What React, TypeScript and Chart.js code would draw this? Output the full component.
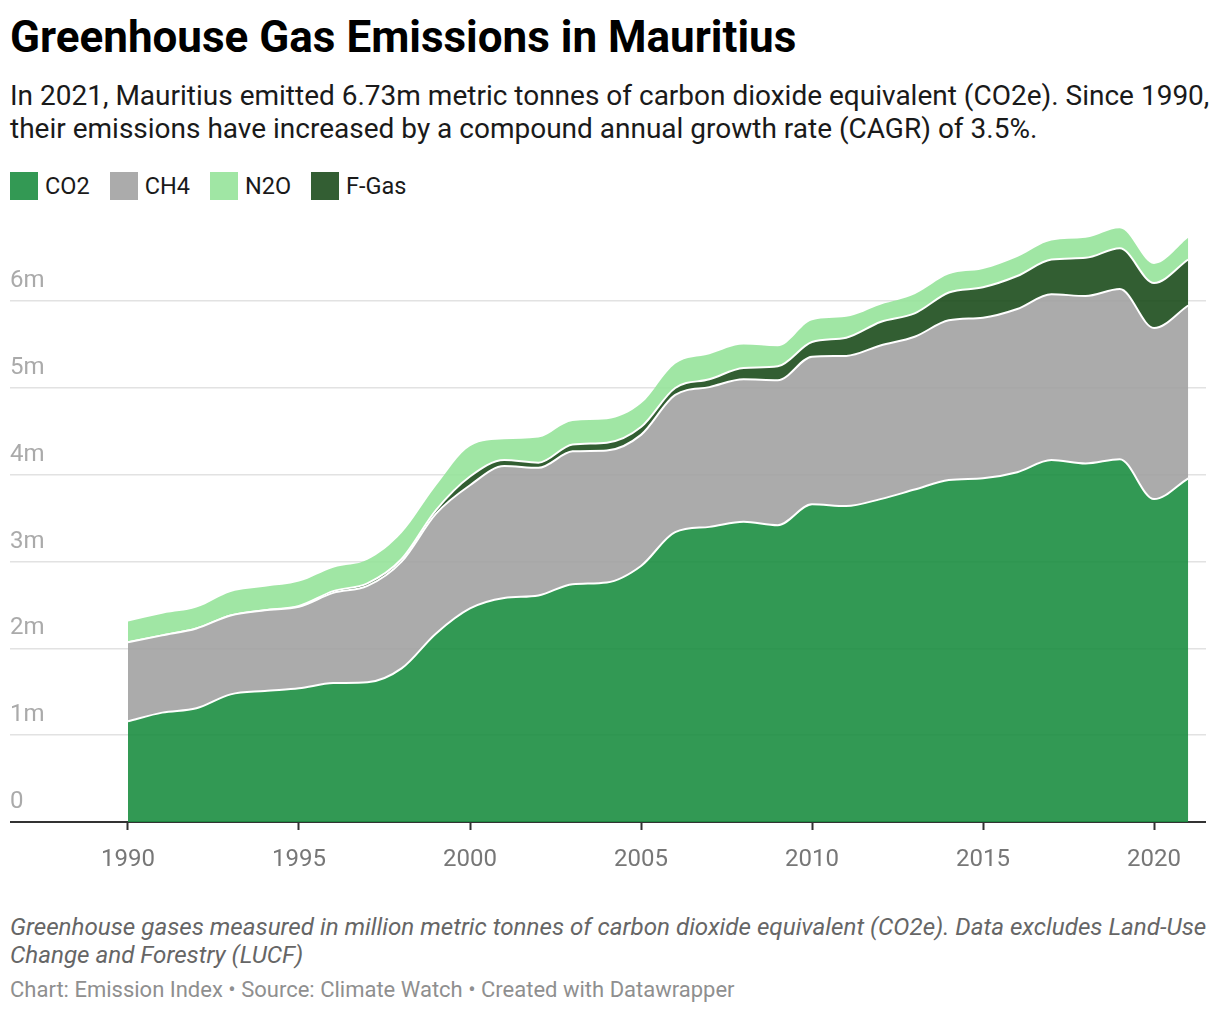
import React, { useEffect, useRef } from "react";
import { Chart, registerables } from "chart.js";

Chart.register(...registerables);

const years = [
  1990, 1991, 1992, 1993, 1994, 1995, 1996, 1997, 1998, 1999, 2000, 2001, 2002, 2003, 2004, 2005,
  2006, 2007, 2008, 2009, 2010, 2011, 2012, 2013, 2014, 2015, 2016, 2017, 2018, 2019, 2020, 2021,
];
const co2 = [
  1.16, 1.26, 1.31, 1.47, 1.51, 1.54, 1.6, 1.61, 1.77, 2.17, 2.46, 2.58, 2.61, 2.74, 2.76, 2.95,
  3.34, 3.4, 3.46, 3.42, 3.66, 3.64, 3.72, 3.83, 3.94, 3.96, 4.03, 4.17, 4.13, 4.18, 3.72, 3.96,
];
const ch4 = [
  0.91, 0.89, 0.92, 0.91, 0.93, 0.94, 1.04, 1.11, 1.23, 1.38, 1.42, 1.52, 1.47, 1.53, 1.52, 1.51,
  1.58, 1.61, 1.64, 1.67, 1.7, 1.73, 1.77, 1.76, 1.84, 1.85, 1.88, 1.91, 1.93, 1.96, 1.97, 1.99,
];
const fgas = [
  0, 0, 0, 0, 0, 0.01, 0.02, 0.03, 0.03, 0.04, 0.1, 0.07, 0.06, 0.08, 0.09, 0.09,
  0.08, 0.09, 0.13, 0.16, 0.17, 0.21, 0.27, 0.27, 0.32, 0.35, 0.38, 0.4, 0.44, 0.47, 0.52, 0.53,
];
const n2o = [
  0.24, 0.25, 0.24, 0.27, 0.27, 0.28, 0.27, 0.27, 0.3, 0.28, 0.35, 0.24, 0.29, 0.27, 0.27, 0.27,
  0.28, 0.29, 0.27, 0.23, 0.25, 0.24, 0.2, 0.22, 0.21, 0.21, 0.22, 0.22, 0.23, 0.23, 0.22, 0.25,
];
const yTickValues = [0, 1, 2, 3, 4, 5, 6];
const xTickValues = [1990, 1995, 2000, 2005, 2010, 2015, 2020];

const legendItems = [
  { label: "CO2", color: "#339954" },
  { label: "CH4", color: "#ababab" },
  { label: "N2O", color: "#a0e6a4" },
  { label: "F-Gas", color: "#335e33" },
];

const FONT = "Roboto, 'Noto Sans', sans-serif";

const pts = (vals: number[]) => years.map((y, i) => ({ x: y, y: vals[i] }));

export default function App() {
  const ref = useRef<HTMLCanvasElement | null>(null);

  useEffect(() => {
    if (!ref.current) return;
    const common = {
      borderColor: "#ffffff",
      borderWidth: 2,
      pointRadius: 0,
      pointHoverRadius: 0,
      cubicInterpolationMode: "monotone" as const,
    };
    const chart = new Chart(ref.current, {
      type: "line",
      data: {
        datasets: [
          { ...common, label: "CO2", data: pts(co2), backgroundColor: "rgba(28,142,65,0.9)", fill: "origin" },
          { ...common, label: "CH4", data: pts(ch4), backgroundColor: "rgba(162,162,162,0.9)", fill: "-1" },
          { ...common, label: "F-Gas", data: pts(fgas), backgroundColor: "rgba(28,76,28,0.9)", fill: "-1" },
          { ...common, label: "N2O", data: pts(n2o), backgroundColor: "rgba(150,227,154,0.9)", fill: "-1", borderWidth: 0 },
        ],
      },
      options: {
        animation: false,
        responsive: false,
        maintainAspectRatio: false,
        layout: { padding: { top: 8, left: 0, right: 0, bottom: 0 } },
        plugins: { legend: { display: false }, tooltip: { enabled: false } },
        scales: {
          x: {
            type: "linear",
            min: 1986.55,
            max: 2021.52,
            afterBuildTicks: (axis: any) => {
              axis.ticks = xTickValues.map((v) => ({ value: v }));
            },
            afterFit: (scale: any) => {
              scale.height = 58;
            },
            grid: {
              drawOnChartArea: false,
              drawTicks: true,
              tickLength: 8,
              tickColor: "#333333",
              tickWidth: 2,
            },
            border: { display: true, color: "#333333", width: 2 },
            ticks: {
              color: "#777777",
              font: { family: FONT, size: 24 },
              padding: 16,
              maxRotation: 0,
              autoSkip: false,
              callback: (v: any) => String(v),
            },
          },
          y: {
            type: "linear",
            stacked: true,
            min: 0,
            max: 7,
            afterBuildTicks: (axis: any) => {
              axis.ticks = yTickValues.map((v) => ({ value: v }));
            },
            afterFit: (scale: any) => {
              scale.width = 0;
            },
            grid: {
              color: (ctx: any) => (ctx.tick && ctx.tick.value === 0 ? "rgba(0,0,0,0)" : "#e2e2e2"),
              lineWidth: 1.5,
              drawTicks: false,
            },
            border: { display: false },
            ticks: {
              mirror: true,
              padding: 0,
              labelOffset: -20,
              color: "#aaaaaa",
              font: { family: FONT, size: 24 },
              callback: (v: any) => (v === 0 ? "0" : v + "m"),
            },
          },
        },
      },
    });
    return () => chart.destroy();
  }, []);

  return (
    <div style={{ position: "relative", width: 1220, height: 1014, fontFamily: FONT, background: "#fff" }}>
      <style>{`body{margin:0;background:#fff}`}</style>
      <div
        style={{
          position: "absolute",
          left: 10,
          top: 15,
          fontSize: 44,
          lineHeight: "44px",
          fontWeight: 700,
          color: "#000",
          whiteSpace: "nowrap",
        }}
      >
        Greenhouse Gas Emissions in Mauritius
      </div>
      <div
        style={{
          position: "absolute",
          left: 10,
          top: 80,
          width: 1215,
          fontSize: 28,
          lineHeight: "32.5px",
          color: "#1a1a1a",
          whiteSpace: "nowrap",
        }}
      >
        In 2021, Mauritius emitted 6.73m metric tonnes of carbon dioxide equivalent (CO2e). Since 1990,
        <br />
        their emissions have increased by a compound annual growth rate (CAGR) of 3.5%.
      </div>
      <div
        style={{
          position: "absolute",
          left: 10,
          top: 172,
          height: 28,
          display: "flex",
          alignItems: "center",
          gap: 20,
        }}
      >
        {legendItems.map((it) => (
          <div key={it.label} style={{ display: "flex", alignItems: "center" }}>
            <div style={{ width: 28, height: 28, background: it.color, marginRight: 7 }} />
            <span style={{ fontSize: 23.5, color: "#1a1a1a", lineHeight: "28px" }}>{it.label}</span>
          </div>
        ))}
      </div>
      <div style={{ position: "absolute", left: 10, top: 200, width: 1196, height: 680 }}>
        <canvas ref={ref} width={1196} height={680} style={{ width: 1196, height: 680, display: "block" }} />
      </div>
      <div
        style={{
          position: "absolute",
          left: 10,
          top: 913,
          width: 1215,
          fontSize: 24.2,
          lineHeight: "28px",
          fontStyle: "italic",
          color: "#666666",
          whiteSpace: "nowrap",
        }}
      >
        Greenhouse gases measured in million metric tonnes of carbon dioxide equivalent (CO2e). Data excludes Land-Use
        <br />
        Change and Forestry (LUCF)
      </div>
      <div
        style={{
          position: "absolute",
          left: 10,
          top: 977.5,
          fontSize: 22,
          lineHeight: "24px",
          color: "#8f8f8f",
          whiteSpace: "nowrap",
        }}
      >
        Chart: Emission Index • Source: Climate Watch • Created with Datawrapper
      </div>
    </div>
  );
}
